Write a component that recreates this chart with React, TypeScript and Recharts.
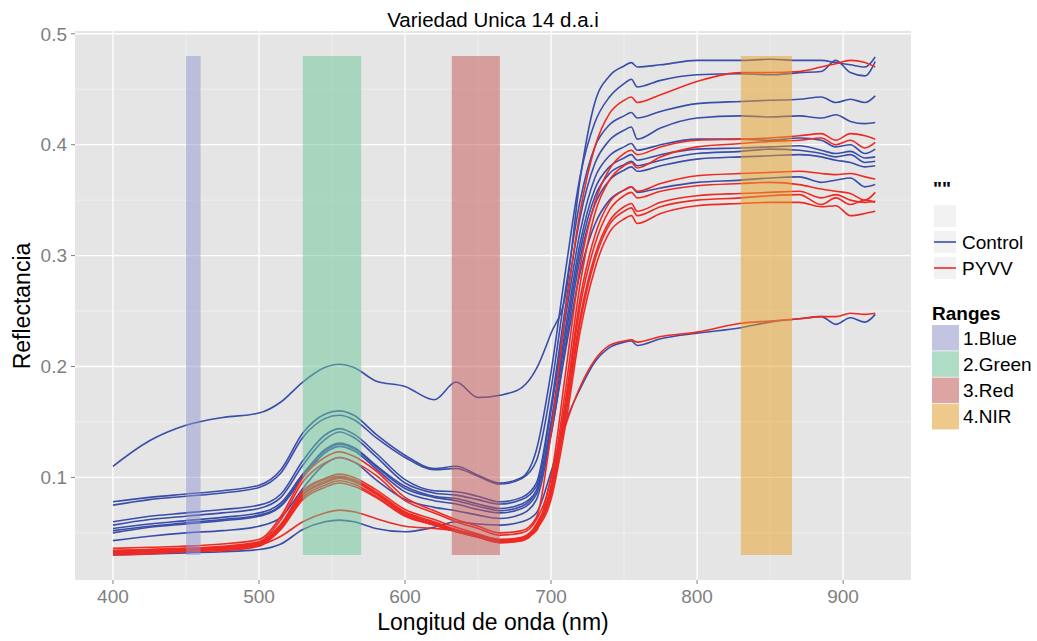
import React from 'react';
import { LineChart, Line, XAxis, YAxis, CartesianGrid, ReferenceArea } from 'recharts';

const WAVELENGTHS = [400, 425, 450, 475, 500, 515, 530, 545, 555, 565, 580, 600, 620, 635, 650, 665, 680, 690, 700, 710, 720, 730, 740, 750, 755, 759, 775, 800, 830, 850, 870, 885, 895, 905, 915, 922];

const CONTROL_1 = [0.110, 0.133, 0.147, 0.154, 0.158, 0.168, 0.186, 0.199, 0.202, 0.199, 0.187, 0.182, 0.170, 0.186, 0.172, 0.174, 0.181, 0.198, 0.230, 0.265, 0.370, 0.438, 0.462, 0.471, 0.474, 0.470, 0.472, 0.476, 0.476, 0.477, 0.476, 0.476, 0.474, 0.472, 0.470, 0.479];
const CONTROL_2 = [0.078, 0.082, 0.085, 0.088, 0.093, 0.107, 0.140, 0.157, 0.160, 0.156, 0.139, 0.120, 0.108, 0.110, 0.102, 0.095, 0.100, 0.125, 0.195, 0.287, 0.372, 0.420, 0.443, 0.455, 0.459, 0.452, 0.458, 0.463, 0.464, 0.463, 0.465, 0.466, 0.476, 0.465, 0.462, 0.475];
const CONTROL_3 = [0.075, 0.080, 0.083, 0.086, 0.091, 0.104, 0.136, 0.153, 0.156, 0.152, 0.136, 0.118, 0.107, 0.108, 0.101, 0.094, 0.099, 0.115, 0.180, 0.270, 0.350, 0.398, 0.418, 0.426, 0.429, 0.424, 0.430, 0.437, 0.439, 0.440, 0.441, 0.443, 0.438, 0.441, 0.438, 0.444];
const CONTROL_4 = [0.060, 0.065, 0.068, 0.071, 0.075, 0.085, 0.115, 0.138, 0.144, 0.139, 0.122, 0.098, 0.088, 0.087, 0.083, 0.078, 0.082, 0.095, 0.165, 0.255, 0.335, 0.383, 0.404, 0.413, 0.416, 0.405, 0.415, 0.424, 0.426, 0.425, 0.426, 0.424, 0.427, 0.421, 0.419, 0.420];
const CONTROL_5 = [0.057, 0.062, 0.065, 0.068, 0.072, 0.082, 0.111, 0.134, 0.141, 0.136, 0.119, 0.095, 0.086, 0.084, 0.080, 0.076, 0.080, 0.092, 0.160, 0.245, 0.322, 0.370, 0.390, 0.398, 0.401, 0.395, 0.400, 0.405, 0.405, 0.404, 0.406, 0.404, 0.398, 0.400, 0.392, 0.396];
const CONTROL_6 = [0.054, 0.058, 0.061, 0.064, 0.068, 0.077, 0.103, 0.124, 0.130, 0.126, 0.110, 0.090, 0.082, 0.079, 0.074, 0.070, 0.074, 0.088, 0.150, 0.235, 0.312, 0.360, 0.380, 0.388, 0.391, 0.386, 0.391, 0.396, 0.397, 0.398, 0.399, 0.395, 0.392, 0.394, 0.388, 0.389];
const CONTROL_7 = [0.050, 0.055, 0.058, 0.061, 0.065, 0.074, 0.100, 0.122, 0.128, 0.124, 0.108, 0.087, 0.079, 0.076, 0.071, 0.068, 0.072, 0.085, 0.145, 0.228, 0.305, 0.353, 0.374, 0.382, 0.385, 0.381, 0.386, 0.392, 0.394, 0.396, 0.395, 0.392, 0.389, 0.391, 0.384, 0.385];
const CONTROL_8 = [0.043, 0.047, 0.050, 0.052, 0.056, 0.064, 0.090, 0.112, 0.118, 0.114, 0.098, 0.080, 0.073, 0.070, 0.066, 0.063, 0.067, 0.080, 0.138, 0.220, 0.298, 0.346, 0.368, 0.377, 0.380, 0.376, 0.381, 0.387, 0.389, 0.390, 0.391, 0.389, 0.386, 0.384, 0.380, 0.381];
const CONTROL_9 = [0.030, 0.031, 0.032, 0.033, 0.035, 0.040, 0.053, 0.060, 0.0615, 0.060, 0.054, 0.051, 0.055, 0.060, 0.058, 0.057, 0.060, 0.068, 0.105, 0.150, 0.180, 0.204, 0.217, 0.222, 0.223, 0.219, 0.225, 0.230, 0.235, 0.240, 0.243, 0.245, 0.238, 0.244, 0.240, 0.247];
const CONTROL_10 = [0.052, 0.056, 0.059, 0.062, 0.066, 0.075, 0.102, 0.125, 0.131, 0.127, 0.111, 0.092, 0.083, 0.081, 0.076, 0.072, 0.076, 0.088, 0.140, 0.215, 0.285, 0.328, 0.350, 0.359, 0.362, 0.357, 0.361, 0.366, 0.368, 0.370, 0.371, 0.366, 0.368, 0.370, 0.362, 0.364];

const PYVV_1 = [0.036, 0.037, 0.038, 0.040, 0.044, 0.065, 0.100, 0.118, 0.123, 0.119, 0.106, 0.082, 0.070, 0.062, 0.056, 0.050, 0.052, 0.064, 0.140, 0.250, 0.340, 0.398, 0.428, 0.440, 0.443, 0.438, 0.445, 0.457, 0.465, 0.465, 0.466, 0.470, 0.473, 0.476, 0.474, 0.470];
const PYVV_2 = [0.034, 0.035, 0.036, 0.038, 0.042, 0.062, 0.096, 0.113, 0.118, 0.114, 0.102, 0.079, 0.068, 0.060, 0.054, 0.048, 0.050, 0.062, 0.100, 0.195, 0.290, 0.348, 0.378, 0.392, 0.395, 0.391, 0.398, 0.404, 0.405, 0.406, 0.408, 0.410, 0.404, 0.410, 0.408, 0.405];
const PYVV_3 = [0.033, 0.034, 0.035, 0.037, 0.041, 0.058, 0.088, 0.099, 0.103, 0.100, 0.089, 0.071, 0.062, 0.055, 0.049, 0.044, 0.046, 0.058, 0.093, 0.180, 0.275, 0.338, 0.368, 0.381, 0.384, 0.379, 0.389, 0.398, 0.401, 0.403, 0.404, 0.406, 0.400, 0.404, 0.397, 0.402];
const PYVV_4 = [0.032, 0.033, 0.034, 0.036, 0.040, 0.057, 0.087, 0.098, 0.101, 0.098, 0.087, 0.069, 0.060, 0.053, 0.048, 0.043, 0.045, 0.056, 0.090, 0.170, 0.262, 0.318, 0.348, 0.359, 0.362, 0.358, 0.365, 0.372, 0.374, 0.375, 0.376, 0.374, 0.373, 0.374, 0.371, 0.369];
const PYVV_5 = [0.031, 0.032, 0.034, 0.035, 0.039, 0.055, 0.085, 0.096, 0.100, 0.097, 0.086, 0.068, 0.059, 0.052, 0.047, 0.042, 0.044, 0.055, 0.088, 0.165, 0.255, 0.310, 0.341, 0.354, 0.357, 0.352, 0.358, 0.363, 0.365, 0.366, 0.364, 0.360, 0.358, 0.356, 0.350, 0.357];
const PYVV_6 = [0.034, 0.035, 0.036, 0.037, 0.041, 0.056, 0.084, 0.095, 0.099, 0.096, 0.085, 0.067, 0.058, 0.052, 0.047, 0.043, 0.045, 0.057, 0.086, 0.160, 0.245, 0.300, 0.331, 0.344, 0.347, 0.340, 0.348, 0.354, 0.356, 0.357, 0.358, 0.352, 0.355, 0.350, 0.348, 0.349];
const PYVV_7 = [0.030, 0.031, 0.033, 0.034, 0.038, 0.054, 0.082, 0.093, 0.097, 0.094, 0.083, 0.066, 0.057, 0.051, 0.046, 0.042, 0.043, 0.054, 0.084, 0.155, 0.240, 0.296, 0.328, 0.340, 0.343, 0.336, 0.344, 0.350, 0.352, 0.354, 0.355, 0.346, 0.352, 0.346, 0.350, 0.348];
const PYVV_8 = [0.032, 0.033, 0.034, 0.036, 0.039, 0.053, 0.080, 0.091, 0.095, 0.092, 0.082, 0.065, 0.057, 0.051, 0.046, 0.041, 0.043, 0.053, 0.080, 0.148, 0.232, 0.288, 0.321, 0.333, 0.336, 0.329, 0.338, 0.345, 0.347, 0.348, 0.348, 0.344, 0.345, 0.336, 0.338, 0.340];
const PYVV_9 = [0.033, 0.034, 0.035, 0.036, 0.039, 0.047, 0.060, 0.068, 0.0705, 0.069, 0.063, 0.056, 0.054, 0.052, 0.048, 0.044, 0.045, 0.052, 0.100, 0.147, 0.182, 0.206, 0.219, 0.223, 0.224, 0.222, 0.227, 0.231, 0.239, 0.241, 0.243, 0.245, 0.245, 0.248, 0.247, 0.248];

const CONTROL_SERIES = [CONTROL_1, CONTROL_2, CONTROL_3, CONTROL_4, CONTROL_5, CONTROL_6, CONTROL_7, CONTROL_8, CONTROL_9, CONTROL_10];
const PYVV_SERIES = [PYVV_1, PYVV_2, PYVV_3, PYVV_4, PYVV_5, PYVV_6, PYVV_7, PYVV_8, PYVV_9];

const X_TICKS = [400, 500, 600, 700, 800, 900];
const X_MINOR = [450, 550, 650, 750, 850];
const Y_TICKS = [0.1, 0.2, 0.3, 0.4, 0.5];
const Y_MINOR = [0.05, 0.15, 0.25, 0.35, 0.45];

const RANGE_NAMES = ['1.Blue', '2.Green', '3.Red', '4.NIR'];
const RANGE_START = [450, 530, 632, 830];
const RANGE_END = [460, 570, 665, 865];
const RANGE_LOW = 0.03;
const RANGE_HIGH = 0.48;
const RANGE_COLORS = ['#9296CF', '#6CC597', '#C55853', '#E9A026'];

const GROUP_NAMES = ['Control', 'PYVV'];
const GROUP_COLORS = ['#3A4EA9', '#EE2A24'];

const TITLE = 'Variedad Unica 14 d.a.i';
const X_TITLE = 'Longitud de onda (nm)';
const Y_TITLE = 'Reflectancia';

const FONT = "'Liberation Sans', Arial, Helvetica, sans-serif";

const W = 1037;
const H = 641;

const data = WAVELENGTHS.map((w, i) => {
  const row: Record<string, number> = { x: w };
  CONTROL_SERIES.forEach((s, k) => { row['c' + k] = s[i]; });
  PYVV_SERIES.forEach((s, k) => { row['p' + k] = s[i]; });
  return row;
});

export default function App() {
  return (
    <div style={{ position: 'absolute', left: 0, top: 0, width: W, height: H, background: '#fff' }}>
      <LineChart width={W} height={H} data={data} margin={{ top: 31, right: 126, bottom: 0, left: 0 }}>
        <CartesianGrid fill="#E5E5E5" stroke="#F3F3F3" strokeWidth={0.7} horizontalValues={Y_MINOR} verticalValues={X_MINOR} />
        <CartesianGrid stroke="#FFFFFF" strokeWidth={1.3} horizontalValues={Y_TICKS} verticalValues={X_TICKS} />
        <XAxis
          type="number"
          dataKey="x"
          domain={[374, 946.5]}
          ticks={X_TICKS}
          allowDataOverflow
          height={61}
          axisLine={false}
          tickSize={4}
          tickMargin={6}
          tickLine={{ stroke: '#7F7F7F', strokeWidth: 1 }}
          tick={{ fill: '#7F7F7F', fontSize: 19, fontFamily: FONT }}
        />
        <YAxis
          type="number"
          domain={[0.0075, 0.5025]}
          ticks={Y_TICKS}
          allowDataOverflow
          width={75}
          axisLine={false}
          tickSize={4}
          tickMargin={4}
          tickLine={{ stroke: '#7F7F7F', strokeWidth: 1 }}
          tick={{ fill: '#7F7F7F', fontSize: 19, fontFamily: FONT }}
          tickFormatter={(v: number) => v.toFixed(1)}
        />
        {CONTROL_SERIES.map((_, k) => (
          <Line key={'c' + k} dataKey={'c' + k} type="monotone" stroke={GROUP_COLORS[0]} strokeWidth={1.6} dot={false} activeDot={false} isAnimationActive={false} />
        ))}
        {PYVV_SERIES.map((_, k) => (
          <Line key={'p' + k} dataKey={'p' + k} type="monotone" stroke={GROUP_COLORS[1]} strokeWidth={1.6} dot={false} activeDot={false} isAnimationActive={false} />
        ))}
        {RANGE_NAMES.map((n, i) => (
          <ReferenceArea
            key={n}
            x1={RANGE_START[i]}
            x2={RANGE_END[i]}
            y1={RANGE_LOW}
            y2={RANGE_HIGH}
            fill={RANGE_COLORS[i]}
            fillOpacity={0.5}
            stroke="none"
            zIndex={450}
          />
        ))}
      </LineChart>
      <svg width={W} height={H} style={{ position: 'absolute', left: 0, top: 0, pointerEvents: 'none' }} fontFamily={FONT}>
        <text x={493} y={27} textAnchor="middle" fontSize={20.5} fill="#000">{TITLE}</text>
        <text x={493} y={630} textAnchor="middle" fontSize={23} fill="#000">{X_TITLE}</text>
        <text transform="translate(30,306) rotate(-90)" textAnchor="middle" fontSize={23} fill="#000">{Y_TITLE}</text>
        <text x={933} y={195} fontSize={19} fontWeight="bold" fill="#000">""</text>
        <rect x={934} y={205} width={22} height={22} fill="#F2F2F2" />
        {GROUP_NAMES.map((g, i) => (
          <g key={g}>
            <rect x={934} y={231 + i * 26} width={22} height={22} fill="#F2F2F2" />
            <line x1={934} x2={956} y1={242 + i * 26} y2={242 + i * 26} stroke={GROUP_COLORS[i]} strokeWidth={1.6} />
            <text x={962} y={249 + i * 26} fontSize={19} fill="#000">{g}</text>
          </g>
        ))}
        <text x={932} y={320} fontSize={19} fontWeight="bold" fill="#000">Ranges</text>
        {RANGE_NAMES.map((n, i) => (
          <g key={n}>
            <rect x={932} y={325 + i * 26.3} width={27} height={25.5} fill="#F2F2F2" />
            <rect x={932} y={325 + i * 26.3} width={27} height={25.5} fill={RANGE_COLORS[i]} fillOpacity={0.5} />
            <text x={963} y={344.5 + i * 26.3} fontSize={19} fill="#000">{n}</text>
          </g>
        ))}
      </svg>
    </div>
  );
}
